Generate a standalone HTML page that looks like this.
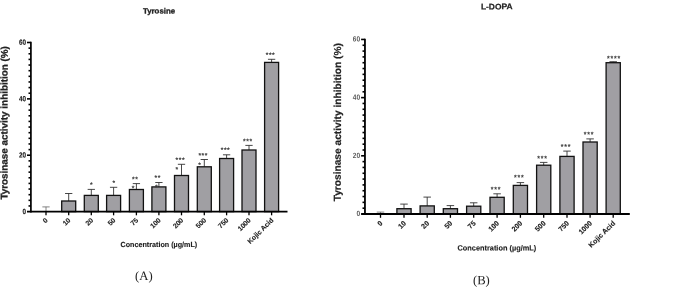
<!DOCTYPE html>
<html lang="en"><head><meta charset="utf-8"><title>Tyrosinase activity inhibition</title>
<style>
html,body{margin:0;padding:0;background:#fff}
svg{display:block}
text{text-rendering:geometricPrecision}
.b{font-family:'Liberation Sans', Arial, sans-serif;font-weight:bold}
.r{font-family:'Liberation Sans', Arial, sans-serif}
.s{font-family:'Liberation Serif', 'Times New Roman', serif}
</style></head>
<body><svg width="685" height="287" viewBox="0 0 685 287">
<rect width="685" height="287" fill="#fff"/>
<path d="M42.35 206.90H49.65M46.00 206.90V211.60" stroke="#666" stroke-width="0.8" fill="none"/>
<path d="M65.05 193.50H72.35M68.70 193.50V201.00" stroke="#333" stroke-width="0.9" fill="none"/>
<rect x="61.70" y="201.00" width="14.00" height="10.60" fill="#a09fa3" stroke="#111" stroke-width="1.3"/>
<path d="M87.65 189.40H94.95M91.30 189.40V195.40" stroke="#333" stroke-width="0.9" fill="none"/>
<rect x="84.30" y="195.40" width="14.00" height="16.20" fill="#a09fa3" stroke="#111" stroke-width="1.3"/>
<text class="r" transform="translate(91.60,187.10) rotate(-0.1)" font-size="6.8" text-anchor="middle" letter-spacing="0.55" stroke="#333" stroke-width="0.2" fill="#333">*</text>
<path d="M109.95 187.30H117.25M113.60 187.30V195.40" stroke="#333" stroke-width="0.9" fill="none"/>
<rect x="106.60" y="195.40" width="14.00" height="16.20" fill="#a09fa3" stroke="#111" stroke-width="1.3"/>
<text class="r" transform="translate(114.10,185.30) rotate(-0.1)" font-size="6.8" text-anchor="middle" letter-spacing="0.55" stroke="#333" stroke-width="0.2" fill="#333">*</text>
<path d="M132.75 183.60H140.05M136.40 183.60V189.50" stroke="#333" stroke-width="0.9" fill="none"/>
<rect x="129.40" y="189.50" width="14.00" height="22.10" fill="#a09fa3" stroke="#111" stroke-width="1.3"/>
<text class="r" transform="translate(135.30,181.40) rotate(-0.1)" font-size="6.8" text-anchor="middle" letter-spacing="0.55" stroke="#333" stroke-width="0.2" fill="#333">**</text>
<text class="r" transform="translate(133.28,190.60) rotate(-0.1)" font-size="6.8" text-anchor="middle" letter-spacing="0.55" stroke="#333" stroke-width="0.2" fill="#333">*</text>
<path d="M155.25 182.50H162.55M158.90 182.50V186.90" stroke="#333" stroke-width="0.9" fill="none"/>
<rect x="151.90" y="186.90" width="14.00" height="24.70" fill="#a09fa3" stroke="#111" stroke-width="1.3"/>
<text class="r" transform="translate(157.80,179.90) rotate(-0.1)" font-size="6.8" text-anchor="middle" letter-spacing="0.55" stroke="#333" stroke-width="0.2" fill="#333">**</text>
<text class="r" transform="translate(156.47,189.60) rotate(-0.1)" font-size="6.8" text-anchor="middle" letter-spacing="0.55" stroke="#333" stroke-width="0.2" fill="#333">*</text>
<path d="M177.85 164.30H185.15M181.50 164.30V175.50" stroke="#333" stroke-width="0.9" fill="none"/>
<rect x="174.50" y="175.50" width="14.00" height="36.10" fill="#a09fa3" stroke="#111" stroke-width="1.3"/>
<text class="r" transform="translate(180.40,162.30) rotate(-0.1)" font-size="6.8" text-anchor="middle" letter-spacing="0.55" stroke="#333" stroke-width="0.2" fill="#333">***</text>
<text class="r" transform="translate(177.08,171.80) rotate(-0.1)" font-size="6.8" text-anchor="middle" letter-spacing="0.55" stroke="#333" stroke-width="0.2" fill="#333">*</text>
<path d="M200.65 159.50H207.95M204.30 159.50V166.80" stroke="#333" stroke-width="0.9" fill="none"/>
<rect x="197.30" y="166.80" width="14.00" height="44.80" fill="#a09fa3" stroke="#111" stroke-width="1.3"/>
<text class="r" transform="translate(203.20,157.80) rotate(-0.1)" font-size="6.8" text-anchor="middle" letter-spacing="0.55" stroke="#333" stroke-width="0.2" fill="#333">***</text>
<text class="r" transform="translate(199.78,167.30) rotate(-0.1)" font-size="6.8" text-anchor="middle" letter-spacing="0.55" stroke="#333" stroke-width="0.2" fill="#333">*</text>
<path d="M222.95 154.80H230.25M226.60 154.80V158.50" stroke="#333" stroke-width="0.9" fill="none"/>
<rect x="219.60" y="158.50" width="14.00" height="53.10" fill="#a09fa3" stroke="#111" stroke-width="1.3"/>
<text class="r" transform="translate(225.50,152.20) rotate(-0.1)" font-size="6.8" text-anchor="middle" letter-spacing="0.55" stroke="#333" stroke-width="0.2" fill="#333">***</text>
<path d="M245.35 145.40H252.65M249.00 145.40V150.00" stroke="#333" stroke-width="0.9" fill="none"/>
<rect x="242.00" y="150.00" width="14.00" height="61.60" fill="#a09fa3" stroke="#111" stroke-width="1.3"/>
<text class="r" transform="translate(247.90,143.40) rotate(-0.1)" font-size="6.8" text-anchor="middle" letter-spacing="0.55" stroke="#333" stroke-width="0.2" fill="#333">***</text>
<path d="M267.95 59.30H275.25M271.60 59.30V62.40" stroke="#333" stroke-width="0.9" fill="none"/>
<rect x="264.60" y="62.40" width="14.00" height="149.20" fill="#a09fa3" stroke="#111" stroke-width="1.3"/>
<text class="r" transform="translate(270.50,57.30) rotate(-0.1)" font-size="6.8" text-anchor="middle" letter-spacing="0.55" stroke="#333" stroke-width="0.2" fill="#333">***</text>
<line x1="30.90" y1="41.70" x2="30.90" y2="212.45" stroke="#000" stroke-width="1.7"/>
<line x1="27.00" y1="211.60" x2="287.50" y2="211.60" stroke="#000" stroke-width="1.7"/>
<text class="b" transform="translate(26.10,213.90) rotate(-0.1) scale(0.86,1)" font-size="7.4" text-anchor="end" stroke="#222" stroke-width="0.15" fill="#222">0</text>
<line x1="28.50" y1="205.96" x2="30.90" y2="205.96" stroke="#000" stroke-width="1.6"/>
<line x1="28.50" y1="200.33" x2="30.90" y2="200.33" stroke="#000" stroke-width="1.6"/>
<line x1="28.50" y1="194.69" x2="30.90" y2="194.69" stroke="#000" stroke-width="1.6"/>
<line x1="28.50" y1="189.05" x2="30.90" y2="189.05" stroke="#000" stroke-width="1.6"/>
<line x1="28.50" y1="183.42" x2="30.90" y2="183.42" stroke="#000" stroke-width="1.6"/>
<line x1="28.50" y1="177.78" x2="30.90" y2="177.78" stroke="#000" stroke-width="1.6"/>
<line x1="28.50" y1="172.14" x2="30.90" y2="172.14" stroke="#000" stroke-width="1.6"/>
<line x1="28.50" y1="166.51" x2="30.90" y2="166.51" stroke="#000" stroke-width="1.6"/>
<line x1="28.50" y1="160.87" x2="30.90" y2="160.87" stroke="#000" stroke-width="1.6"/>
<line x1="27.00" y1="155.23" x2="30.90" y2="155.23" stroke="#000" stroke-width="1.6"/>
<text class="b" transform="translate(26.10,157.53) rotate(-0.1) scale(0.86,1)" font-size="7.4" text-anchor="end" stroke="#222" stroke-width="0.15" fill="#222">20</text>
<line x1="28.50" y1="149.60" x2="30.90" y2="149.60" stroke="#000" stroke-width="1.6"/>
<line x1="28.50" y1="143.96" x2="30.90" y2="143.96" stroke="#000" stroke-width="1.6"/>
<line x1="28.50" y1="138.32" x2="30.90" y2="138.32" stroke="#000" stroke-width="1.6"/>
<line x1="28.50" y1="132.69" x2="30.90" y2="132.69" stroke="#000" stroke-width="1.6"/>
<line x1="28.50" y1="127.05" x2="30.90" y2="127.05" stroke="#000" stroke-width="1.6"/>
<line x1="28.50" y1="121.41" x2="30.90" y2="121.41" stroke="#000" stroke-width="1.6"/>
<line x1="28.50" y1="115.78" x2="30.90" y2="115.78" stroke="#000" stroke-width="1.6"/>
<line x1="28.50" y1="110.14" x2="30.90" y2="110.14" stroke="#000" stroke-width="1.6"/>
<line x1="28.50" y1="104.50" x2="30.90" y2="104.50" stroke="#000" stroke-width="1.6"/>
<line x1="27.00" y1="98.87" x2="30.90" y2="98.87" stroke="#000" stroke-width="1.6"/>
<text class="b" transform="translate(26.10,101.17) rotate(-0.1) scale(0.86,1)" font-size="7.4" text-anchor="end" stroke="#222" stroke-width="0.15" fill="#222">40</text>
<line x1="28.50" y1="93.23" x2="30.90" y2="93.23" stroke="#000" stroke-width="1.6"/>
<line x1="28.50" y1="87.59" x2="30.90" y2="87.59" stroke="#000" stroke-width="1.6"/>
<line x1="28.50" y1="81.96" x2="30.90" y2="81.96" stroke="#000" stroke-width="1.6"/>
<line x1="28.50" y1="76.32" x2="30.90" y2="76.32" stroke="#000" stroke-width="1.6"/>
<line x1="28.50" y1="70.68" x2="30.90" y2="70.68" stroke="#000" stroke-width="1.6"/>
<line x1="28.50" y1="65.05" x2="30.90" y2="65.05" stroke="#000" stroke-width="1.6"/>
<line x1="28.50" y1="59.41" x2="30.90" y2="59.41" stroke="#000" stroke-width="1.6"/>
<line x1="28.50" y1="53.77" x2="30.90" y2="53.77" stroke="#000" stroke-width="1.6"/>
<line x1="28.50" y1="48.14" x2="30.90" y2="48.14" stroke="#000" stroke-width="1.6"/>
<line x1="27.00" y1="42.50" x2="30.90" y2="42.50" stroke="#000" stroke-width="1.6"/>
<text class="b" transform="translate(26.10,44.80) rotate(-0.1) scale(0.86,1)" font-size="7.4" text-anchor="end" stroke="#222" stroke-width="0.15" fill="#222">60</text>
<line x1="46.00" y1="211.60" x2="46.00" y2="215.30" stroke="#000" stroke-width="1.3"/>
<text class="b" transform="translate(48.30,220.70) rotate(-45)" font-size="6.9" text-anchor="end" stroke="#222" stroke-width="0.12" fill="#222">0</text>
<line x1="68.70" y1="211.60" x2="68.70" y2="215.30" stroke="#000" stroke-width="1.3"/>
<text class="b" transform="translate(71.00,220.70) rotate(-45)" font-size="6.9" text-anchor="end" stroke="#222" stroke-width="0.12" fill="#222">10</text>
<line x1="91.30" y1="211.60" x2="91.30" y2="215.30" stroke="#000" stroke-width="1.3"/>
<text class="b" transform="translate(93.60,220.70) rotate(-45)" font-size="6.9" text-anchor="end" stroke="#222" stroke-width="0.12" fill="#222">20</text>
<line x1="113.60" y1="211.60" x2="113.60" y2="215.30" stroke="#000" stroke-width="1.3"/>
<text class="b" transform="translate(115.90,220.70) rotate(-45)" font-size="6.9" text-anchor="end" stroke="#222" stroke-width="0.12" fill="#222">50</text>
<line x1="136.40" y1="211.60" x2="136.40" y2="215.30" stroke="#000" stroke-width="1.3"/>
<text class="b" transform="translate(138.70,220.70) rotate(-45)" font-size="6.9" text-anchor="end" stroke="#222" stroke-width="0.12" fill="#222">75</text>
<line x1="158.90" y1="211.60" x2="158.90" y2="215.30" stroke="#000" stroke-width="1.3"/>
<text class="b" transform="translate(161.20,220.70) rotate(-45)" font-size="6.9" text-anchor="end" stroke="#222" stroke-width="0.12" fill="#222">100</text>
<line x1="181.50" y1="211.60" x2="181.50" y2="215.30" stroke="#000" stroke-width="1.3"/>
<text class="b" transform="translate(183.80,220.70) rotate(-45)" font-size="6.9" text-anchor="end" stroke="#222" stroke-width="0.12" fill="#222">200</text>
<line x1="204.30" y1="211.60" x2="204.30" y2="215.30" stroke="#000" stroke-width="1.3"/>
<text class="b" transform="translate(206.60,220.70) rotate(-45)" font-size="6.9" text-anchor="end" stroke="#222" stroke-width="0.12" fill="#222">500</text>
<line x1="226.60" y1="211.60" x2="226.60" y2="215.30" stroke="#000" stroke-width="1.3"/>
<text class="b" transform="translate(228.90,220.70) rotate(-45)" font-size="6.9" text-anchor="end" stroke="#222" stroke-width="0.12" fill="#222">750</text>
<line x1="249.00" y1="211.60" x2="249.00" y2="215.30" stroke="#000" stroke-width="1.3"/>
<text class="b" transform="translate(251.30,220.70) rotate(-45)" font-size="6.9" text-anchor="end" stroke="#222" stroke-width="0.12" fill="#222">1000</text>
<line x1="271.60" y1="211.60" x2="271.60" y2="215.30" stroke="#000" stroke-width="1.3"/>
<text class="b" transform="translate(273.90,220.70) rotate(-45)" font-size="6.9" text-anchor="end" stroke="#222" stroke-width="0.12" fill="#222">Kojic Acid</text>
<text class="b" transform="translate(142.90,13.45) rotate(-0.1)" font-size="7.7" textLength="32.3" lengthAdjust="spacingAndGlyphs" stroke="#222" stroke-width="0.3" fill="#222">Tyrosine</text>
<text class="b" transform="translate(120.50,247.10) rotate(-0.1)" font-size="7.4" textLength="76.7" lengthAdjust="spacingAndGlyphs" stroke="#222" stroke-width="0.12" fill="#222">Concentration (µg/mL)</text>
<text class="b" transform="translate(7.40,199.60) rotate(-89.9)" font-size="9.8" textLength="153.5" lengthAdjust="spacingAndGlyphs" stroke="#222" stroke-width="0.3" fill="#222">Tyrosinase activity inhibition (%)</text>
<text class="s" transform="translate(135.00,280.10) rotate(-0.1)" font-size="12.7" fill="#222">(A)</text>
<path d="M376.75 212.10H384.25M380.50 212.10V214.00" stroke="#666" stroke-width="0.8" fill="none"/>
<path d="M400.25 204.10H407.75M404.00 204.10V208.70" stroke="#333" stroke-width="0.9" fill="none"/>
<rect x="396.90" y="208.70" width="14.20" height="5.30" fill="#a09fa3" stroke="#111" stroke-width="1.3"/>
<path d="M423.45 197.10H430.95M427.20 197.10V205.90" stroke="#333" stroke-width="0.9" fill="none"/>
<rect x="420.10" y="205.90" width="14.20" height="8.10" fill="#a09fa3" stroke="#111" stroke-width="1.3"/>
<path d="M446.65 205.60H454.15M450.40 205.60V208.70" stroke="#333" stroke-width="0.9" fill="none"/>
<rect x="443.30" y="208.70" width="14.20" height="5.30" fill="#a09fa3" stroke="#111" stroke-width="1.3"/>
<path d="M469.95 202.80H477.45M473.70 202.80V206.20" stroke="#333" stroke-width="0.9" fill="none"/>
<rect x="466.60" y="206.20" width="14.20" height="7.80" fill="#a09fa3" stroke="#111" stroke-width="1.3"/>
<path d="M493.35 193.80H500.85M497.10 193.80V197.30" stroke="#333" stroke-width="0.9" fill="none"/>
<rect x="490.00" y="197.30" width="14.20" height="16.70" fill="#a09fa3" stroke="#111" stroke-width="1.3"/>
<text class="r" transform="translate(496.00,191.75) rotate(-0.1)" font-size="7.0" text-anchor="middle" letter-spacing="0.78" stroke="#333" stroke-width="0.2" fill="#333">***</text>
<path d="M516.65 182.60H524.15M520.40 182.60V185.40" stroke="#333" stroke-width="0.9" fill="none"/>
<rect x="513.30" y="185.40" width="14.20" height="28.60" fill="#a09fa3" stroke="#111" stroke-width="1.3"/>
<text class="r" transform="translate(519.30,179.85) rotate(-0.1)" font-size="7.0" text-anchor="middle" letter-spacing="0.78" stroke="#333" stroke-width="0.2" fill="#333">***</text>
<path d="M539.95 162.40H547.45M543.70 162.40V165.20" stroke="#333" stroke-width="0.9" fill="none"/>
<rect x="536.60" y="165.20" width="14.20" height="48.80" fill="#a09fa3" stroke="#111" stroke-width="1.3"/>
<text class="r" transform="translate(542.60,160.65) rotate(-0.1)" font-size="7.0" text-anchor="middle" letter-spacing="0.78" stroke="#333" stroke-width="0.2" fill="#333">***</text>
<path d="M563.25 151.10H570.75M567.00 151.10V156.40" stroke="#333" stroke-width="0.9" fill="none"/>
<rect x="559.90" y="156.40" width="14.20" height="57.60" fill="#a09fa3" stroke="#111" stroke-width="1.3"/>
<text class="r" transform="translate(565.90,149.05) rotate(-0.1)" font-size="7.0" text-anchor="middle" letter-spacing="0.78" stroke="#333" stroke-width="0.2" fill="#333">***</text>
<path d="M586.35 138.90H593.85M590.10 138.90V142.00" stroke="#333" stroke-width="0.9" fill="none"/>
<rect x="583.00" y="142.00" width="14.20" height="72.00" fill="#a09fa3" stroke="#111" stroke-width="1.3"/>
<text class="r" transform="translate(589.00,136.85) rotate(-0.1)" font-size="7.0" text-anchor="middle" letter-spacing="0.78" stroke="#333" stroke-width="0.2" fill="#333">***</text>
<path d="M609.45 61.70H616.95M613.20 61.70V62.70" stroke="#333" stroke-width="0.9" fill="none"/>
<rect x="606.10" y="62.70" width="14.20" height="151.30" fill="#a09fa3" stroke="#111" stroke-width="1.3"/>
<text class="r" transform="translate(613.90,60.65) rotate(-0.1)" font-size="7.0" text-anchor="middle" letter-spacing="0.78" stroke="#333" stroke-width="0.2" fill="#333">****</text>
<line x1="364.95" y1="38.65" x2="364.95" y2="214.90" stroke="#000" stroke-width="1.8"/>
<line x1="361.10" y1="214.00" x2="629.80" y2="214.00" stroke="#000" stroke-width="1.8"/>
<text class="b" transform="translate(360.10,216.10) rotate(-0.1) scale(0.88,1)" font-size="7.5" text-anchor="end" fill="#5a5a5a">0</text>
<line x1="362.50" y1="208.18" x2="364.95" y2="208.18" stroke="#000" stroke-width="1.6"/>
<line x1="362.50" y1="202.36" x2="364.95" y2="202.36" stroke="#000" stroke-width="1.6"/>
<line x1="362.50" y1="196.55" x2="364.95" y2="196.55" stroke="#000" stroke-width="1.6"/>
<line x1="362.50" y1="190.73" x2="364.95" y2="190.73" stroke="#000" stroke-width="1.6"/>
<line x1="362.50" y1="184.91" x2="364.95" y2="184.91" stroke="#000" stroke-width="1.6"/>
<line x1="362.50" y1="179.09" x2="364.95" y2="179.09" stroke="#000" stroke-width="1.6"/>
<line x1="362.50" y1="173.27" x2="364.95" y2="173.27" stroke="#000" stroke-width="1.6"/>
<line x1="362.50" y1="167.45" x2="364.95" y2="167.45" stroke="#000" stroke-width="1.6"/>
<line x1="362.50" y1="161.63" x2="364.95" y2="161.63" stroke="#000" stroke-width="1.6"/>
<line x1="361.10" y1="155.82" x2="364.95" y2="155.82" stroke="#000" stroke-width="1.6"/>
<text class="b" transform="translate(360.10,157.92) rotate(-0.1) scale(0.88,1)" font-size="7.5" text-anchor="end" fill="#5a5a5a">20</text>
<line x1="362.50" y1="150.00" x2="364.95" y2="150.00" stroke="#000" stroke-width="1.6"/>
<line x1="362.50" y1="144.18" x2="364.95" y2="144.18" stroke="#000" stroke-width="1.6"/>
<line x1="362.50" y1="138.36" x2="364.95" y2="138.36" stroke="#000" stroke-width="1.6"/>
<line x1="362.50" y1="132.54" x2="364.95" y2="132.54" stroke="#000" stroke-width="1.6"/>
<line x1="362.50" y1="126.72" x2="364.95" y2="126.72" stroke="#000" stroke-width="1.6"/>
<line x1="362.50" y1="120.91" x2="364.95" y2="120.91" stroke="#000" stroke-width="1.6"/>
<line x1="362.50" y1="115.09" x2="364.95" y2="115.09" stroke="#000" stroke-width="1.6"/>
<line x1="362.50" y1="109.27" x2="364.95" y2="109.27" stroke="#000" stroke-width="1.6"/>
<line x1="362.50" y1="103.45" x2="364.95" y2="103.45" stroke="#000" stroke-width="1.6"/>
<line x1="361.10" y1="97.63" x2="364.95" y2="97.63" stroke="#000" stroke-width="1.6"/>
<text class="b" transform="translate(360.10,99.73) rotate(-0.1) scale(0.88,1)" font-size="7.5" text-anchor="end" fill="#5a5a5a">40</text>
<line x1="362.50" y1="91.81" x2="364.95" y2="91.81" stroke="#000" stroke-width="1.6"/>
<line x1="362.50" y1="86.00" x2="364.95" y2="86.00" stroke="#000" stroke-width="1.6"/>
<line x1="362.50" y1="80.18" x2="364.95" y2="80.18" stroke="#000" stroke-width="1.6"/>
<line x1="362.50" y1="74.36" x2="364.95" y2="74.36" stroke="#000" stroke-width="1.6"/>
<line x1="362.50" y1="68.54" x2="364.95" y2="68.54" stroke="#000" stroke-width="1.6"/>
<line x1="362.50" y1="62.72" x2="364.95" y2="62.72" stroke="#000" stroke-width="1.6"/>
<line x1="362.50" y1="56.91" x2="364.95" y2="56.91" stroke="#000" stroke-width="1.6"/>
<line x1="362.50" y1="51.09" x2="364.95" y2="51.09" stroke="#000" stroke-width="1.6"/>
<line x1="362.50" y1="45.27" x2="364.95" y2="45.27" stroke="#000" stroke-width="1.6"/>
<line x1="361.10" y1="39.45" x2="364.95" y2="39.45" stroke="#000" stroke-width="1.6"/>
<text class="b" transform="translate(360.10,41.55) rotate(-0.1) scale(0.88,1)" font-size="7.5" text-anchor="end" fill="#5a5a5a">60</text>
<line x1="380.50" y1="214.00" x2="380.50" y2="217.80" stroke="#000" stroke-width="1.3"/>
<text class="b" transform="translate(383.00,223.70) rotate(-45)" font-size="7.1" text-anchor="end" stroke="#222" stroke-width="0.12" fill="#222">0</text>
<line x1="404.00" y1="214.00" x2="404.00" y2="217.80" stroke="#000" stroke-width="1.3"/>
<text class="b" transform="translate(406.50,223.70) rotate(-45)" font-size="7.1" text-anchor="end" stroke="#222" stroke-width="0.12" fill="#222">10</text>
<line x1="427.20" y1="214.00" x2="427.20" y2="217.80" stroke="#000" stroke-width="1.3"/>
<text class="b" transform="translate(429.70,223.70) rotate(-45)" font-size="7.1" text-anchor="end" stroke="#222" stroke-width="0.12" fill="#222">20</text>
<line x1="450.40" y1="214.00" x2="450.40" y2="217.80" stroke="#000" stroke-width="1.3"/>
<text class="b" transform="translate(452.90,223.70) rotate(-45)" font-size="7.1" text-anchor="end" stroke="#222" stroke-width="0.12" fill="#222">50</text>
<line x1="473.70" y1="214.00" x2="473.70" y2="217.80" stroke="#000" stroke-width="1.3"/>
<text class="b" transform="translate(476.20,223.70) rotate(-45)" font-size="7.1" text-anchor="end" stroke="#222" stroke-width="0.12" fill="#222">75</text>
<line x1="497.10" y1="214.00" x2="497.10" y2="217.80" stroke="#000" stroke-width="1.3"/>
<text class="b" transform="translate(499.60,223.70) rotate(-45)" font-size="7.1" text-anchor="end" stroke="#222" stroke-width="0.12" fill="#222">100</text>
<line x1="520.40" y1="214.00" x2="520.40" y2="217.80" stroke="#000" stroke-width="1.3"/>
<text class="b" transform="translate(522.90,223.70) rotate(-45)" font-size="7.1" text-anchor="end" stroke="#222" stroke-width="0.12" fill="#222">200</text>
<line x1="543.70" y1="214.00" x2="543.70" y2="217.80" stroke="#000" stroke-width="1.3"/>
<text class="b" transform="translate(546.20,223.70) rotate(-45)" font-size="7.1" text-anchor="end" stroke="#222" stroke-width="0.12" fill="#222">500</text>
<line x1="567.00" y1="214.00" x2="567.00" y2="217.80" stroke="#000" stroke-width="1.3"/>
<text class="b" transform="translate(569.50,223.70) rotate(-45)" font-size="7.1" text-anchor="end" stroke="#222" stroke-width="0.12" fill="#222">750</text>
<line x1="590.10" y1="214.00" x2="590.10" y2="217.80" stroke="#000" stroke-width="1.3"/>
<text class="b" transform="translate(592.60,223.70) rotate(-45)" font-size="7.1" text-anchor="end" stroke="#222" stroke-width="0.12" fill="#222">1000</text>
<line x1="613.20" y1="214.00" x2="613.20" y2="217.80" stroke="#000" stroke-width="1.3"/>
<text class="b" transform="translate(615.70,223.70) rotate(-45)" font-size="7.1" text-anchor="end" stroke="#222" stroke-width="0.12" fill="#222">Kojic Acid</text>
<text class="b" transform="translate(480.90,9.40) rotate(-0.1)" font-size="8.2" textLength="31.7" lengthAdjust="spacingAndGlyphs" stroke="#222" stroke-width="0.2" fill="#222">L-DOPA</text>
<text class="b" transform="translate(457.50,250.60) rotate(-0.1)" font-size="7.6" textLength="78.7" lengthAdjust="spacingAndGlyphs" stroke="#222" stroke-width="0.12" fill="#222">Concentration (µg/mL)</text>
<text class="b" transform="translate(340.80,201.30) rotate(-89.9)" font-size="10.1" textLength="158.2" lengthAdjust="spacingAndGlyphs" stroke="#222" stroke-width="0.2" fill="#222">Tyrosinase activity inhibition (%)</text>
<text class="s" transform="translate(472.90,284.30) rotate(-0.1)" font-size="12.7" fill="#222">(B)</text>
</svg></body></html>
